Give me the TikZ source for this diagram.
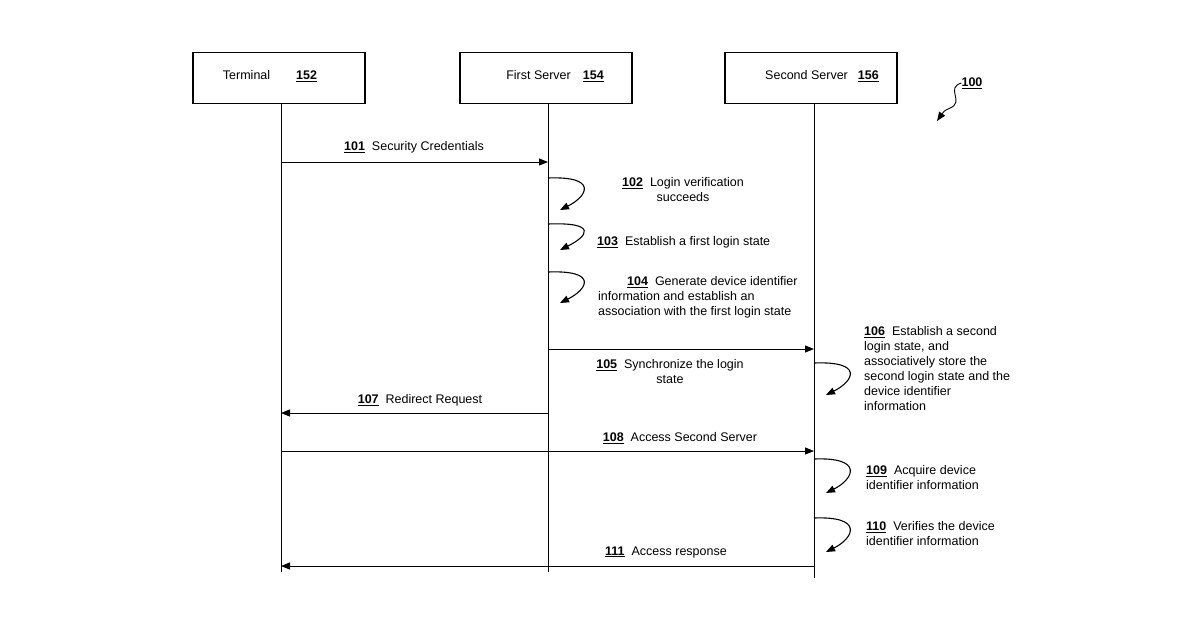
\documentclass[tikz,border=0pt]{standalone}
\usepackage{fontspec}
\setmainfont{Liberation Sans}
\usetikzlibrary{arrows.meta}
\tikzset{
  actor/.style={draw, line width=1.6pt, minimum width=172pt, minimum height=51pt, inner sep=0pt},
  msg/.style={-{Triangle[length=9pt,width=7pt]}, line width=0.9pt},
  selfloop/.style={-{Triangle[length=9pt,width=7pt]}, line width=1.1pt},
  lbl/.style={font=\fontsize{12.5}{15}\selectfont, inner sep=0pt, align=left},
}
\newcommand{\refn}[1]{\underline{\textbf{#1}}}
\begin{document}
\begin{tikzpicture}[x=1pt,y=-1pt]
\useasboundingbox (0,0) rectangle (1200,630);
% participants
\node[actor] (term) at (279,78) {};
\node[lbl] at (270,76) {Terminal\hspace{26pt}\refn{152}};
\node[actor] (srv1) at (546,78) {};
\node[lbl] at (555,76) {First Server\hspace{12pt}\refn{154}};
\node[actor] (srv2) at (811,78) {};
\node[lbl] at (822,76) {Second Server\hspace{10pt}\refn{156}};
% lifelines
\coordinate (termend) at (281,572);
\coordinate (srv1end) at (548,572);
\coordinate (srv2end) at (814,578);
\draw[line width=0.9pt] (term.south -| termend) -- (termend);
\draw[line width=0.9pt] (srv1.south -| srv1end) -- (srv1end);
\draw[line width=0.9pt] (srv2.south -| srv2end) -- (srv2end);
% messages
\coordinate (t101) at (281,162); \coordinate (s101) at (548,162);
\draw[msg] (t101) -- (s101);
\node[lbl] at (414,147) {\refn{101}\ \ Security Credentials};
\coordinate (s105) at (548,349); \coordinate (u105) at (814,349);
\draw[msg] (s105) -- (u105);
\node[lbl, align=center] at (670,372) {\refn{105}\ \ Synchronize the login\\state};
\coordinate (s107) at (548,413); \coordinate (t107) at (281,413);
\draw[msg] (s107) -- (t107);
\node[lbl] at (420,400) {\refn{107}\ \ Redirect Request};
\coordinate (t108) at (281,451); \coordinate (u108) at (814,451);
\draw[msg] (t108) -- (u108);
\node[lbl] at (680,438) {\refn{108}\ \ Access Second Server};
\coordinate (u111) at (814,566); \coordinate (t111) at (281,566);
\draw[msg] (u111) -- (t111);
\node[lbl] at (666,552) {\refn{111}\ \ Access response};
% self loops
\foreach \x/\ya/\yb in {548/178/210, 548/224/250, 548/272/303, 814/363/395, 814/459/493, 814/518/552}
  \draw[selfloop] (\x,\ya) .. controls (\x+50,\ya-2) and (\x+40,\yb-14) .. (\x+12,\yb);
\node[lbl, align=center] at (683,190) {\refn{102}\ \ Login verification\\succeeds};
\node[lbl, anchor=west] at (597,242) {\refn{103}\ \ Establish a first login state};
\node[lbl, anchor=north west] at (598,276) {\hspace*{29pt}\refn{104}\ \ Generate device identifier\\information and establish an\\association with the first login state};
\node[lbl, anchor=north west] at (864,326) {\refn{106}\ \ Establish a second\\login state, and\\associatively store the\\second login state and the\\device identifier\\information};
\node[lbl, anchor=north west] at (866,465) {\refn{109}\ \ Acquire device\\identifier information};
\node[lbl, anchor=north west] at (866,521) {\refn{110}\ \ Verifies the device\\identifier information};
% figure reference
\node[lbl] (fig) at (972,83) {\refn{100}};
\coordinate (figtip) at (937,121);
\draw[selfloop, line width=0.9pt] (fig.west) .. controls (945,88) and (965,102) .. (950,108) .. controls (944,111) .. (figtip);
\end{tikzpicture}
\end{document}
